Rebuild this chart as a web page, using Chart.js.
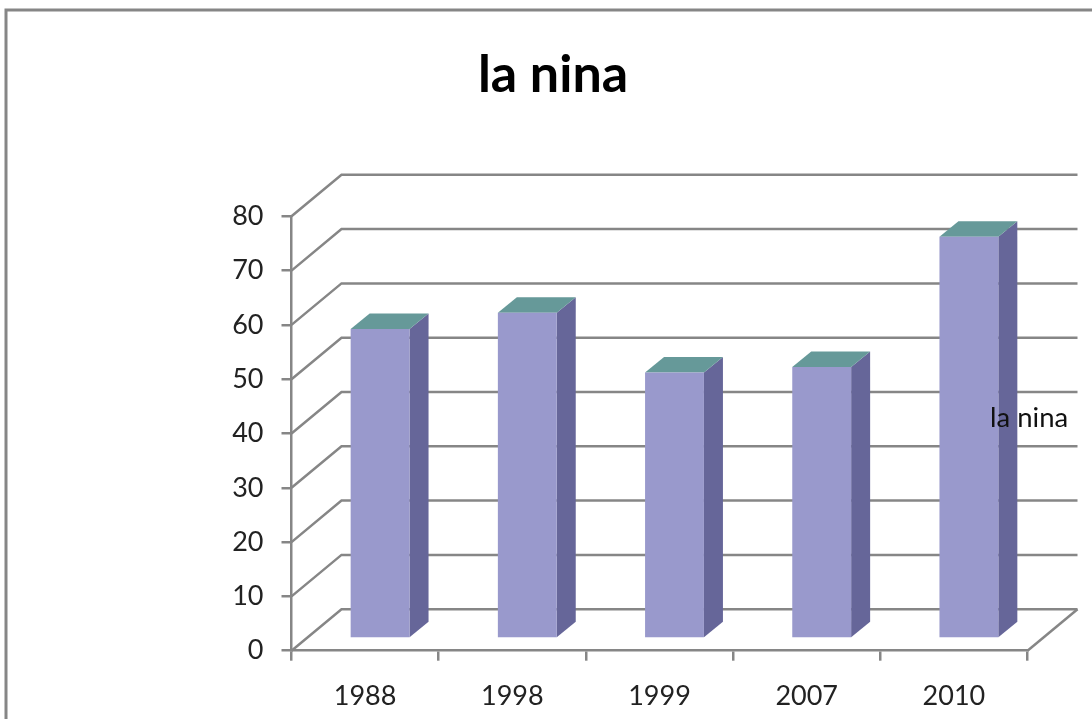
<!DOCTYPE html>
<html>
<head>
    <meta charset="UTF-8">
    <title>la nina</title>
    <script src="https://cdn.jsdelivr.net/npm/chart.js"></script>
    <style>
        html, body { margin: 0; background: #fff; overflow: hidden; }
        canvas { display: block; filter: blur(0.6px); }
    </style>
</head>

<body>
<canvas id="chart" width="1092" height="719"></canvas>

<script>
    const years = ['1988', '1998', '1999', '2007', '2010'];
    const values = [57, 60, 49, 50, 74];
    const seriesName = 'la nina';

    const GREY = '#868686';
    const FONT = 'Lato, "Noto Sans", sans-serif';

    // Depth of the fake 3D box and of the bars inside it
    const WALL_DX = 50, WALL_DY = -41.5;
    const BAR_DX = 19, BAR_DY = -15.5;
    const BAR_SHIFT_X = 15, BAR_SHIFT_Y = -12.2;

    function poly(ctx, points, fill) {
        ctx.beginPath();
        points.forEach((p, i) => i ? ctx.lineTo(p[0], p[1]) : ctx.moveTo(p[0], p[1]));
        ctx.closePath();
        ctx.fillStyle = fill;
        ctx.fill();
    }

    const box3d = {
        id: 'box3d',
        beforeDraw(chart) {
            // frame of the original picture, cut off at right and bottom
            const ctx = chart.ctx;
            ctx.save();
            ctx.strokeStyle = GREY;
            ctx.lineWidth = 3;
            ctx.beginPath();
            ctx.moveTo(6, 719);
            ctx.lineTo(6, 10);
            ctx.lineTo(1092, 10);
            ctx.stroke();
            ctx.restore();
        },
        beforeDatasetsDraw(chart) {
            const ctx = chart.ctx, y = chart.scales.y, a = chart.chartArea;
            ctx.save();
            ctx.strokeStyle = GREY;
            ctx.lineWidth = 2.5;
            y.ticks.forEach(t => {
                const py = y.getPixelForValue(t.value);
                ctx.beginPath();
                ctx.moveTo(a.left, py);
                ctx.lineTo(a.left + WALL_DX, py + WALL_DY);
                ctx.lineTo(a.right + WALL_DX, py + WALL_DY);
                ctx.stroke();
            });
            // right edge of the floor
            ctx.beginPath();
            ctx.moveTo(a.right, a.bottom);
            ctx.lineTo(a.right + WALL_DX, a.bottom + WALL_DY);
            ctx.stroke();
            ctx.restore();

            // the library draws the bar fronts, moved into the box
            ctx.save();
            ctx.translate(BAR_SHIFT_X, BAR_SHIFT_Y);
            chart.getDatasetMeta(0).data.forEach(bar => {
                const l = bar.x - bar.width / 2, r = bar.x + bar.width / 2;
                poly(ctx, [[r, bar.y], [r + BAR_DX, bar.y + BAR_DY], [r + BAR_DX, bar.base + BAR_DY], [r, bar.base]], '#666699');
                poly(ctx, [[l, bar.y], [l + BAR_DX, bar.y + BAR_DY], [r + BAR_DX, bar.y + BAR_DY], [r, bar.y]], '#669999');
            });
        },
        afterDatasetsDraw(chart) {
            chart.ctx.restore();
        },
        afterDraw(chart) {
            const ctx = chart.ctx;
            ctx.save();
            ctx.fillStyle = '#111';
            ctx.font = '27.5px ' + FONT;
            ctx.textAlign = 'left';
            ctx.textBaseline = 'middle';
            ctx.fillText(seriesName, 990, 418);
            ctx.restore();
        }
    };

    new Chart(document.getElementById('chart'), {
        type: 'bar',
        data: {
            labels: years,
            datasets: [{
                label: seriesName,
                data: values,
                backgroundColor: '#9999cc',
                barPercentage: 0.4,
                categoryPercentage: 1
            }]
        },
        options: {
            responsive: false,
            animation: false,
            layout: { padding: { left: 78.5, right: 64.5 } },
            plugins: {
                legend: { display: false },
                tooltip: { enabled: false },
                title: {
                    display: true,
                    text: 'la nina',
                    color: '#000',
                    font: { family: FONT, size: 52, weight: 'bold', lineHeight: 1.2 },
                    padding: { top: 43.8, bottom: 110.1 }
                }
            },
            scales: {
                x: {
                    afterFit: s => { s.height = 68.3; },
                    grid: { drawOnChartArea: false, color: GREY, tickLength: 10, lineWidth: 2.5 },
                    border: { color: GREY, width: 2.5 },
                    ticks: { color: '#222', font: { family: FONT, size: 27 }, padding: 19, maxRotation: 0 }
                },
                y: {
                    min: 0,
                    max: 80,
                    afterFit: s => { s.width = 213; },
                    grid: { drawOnChartArea: false, color: GREY, tickLength: 10, lineWidth: 2.5 },
                    border: { color: GREY, width: 2.5 },
                    ticks: { stepSize: 10, color: '#222', font: { family: FONT, size: 27 }, padding: 18 }
                }
            }
        },
        plugins: [box3d]
    });
</script>

</body>
</html>
